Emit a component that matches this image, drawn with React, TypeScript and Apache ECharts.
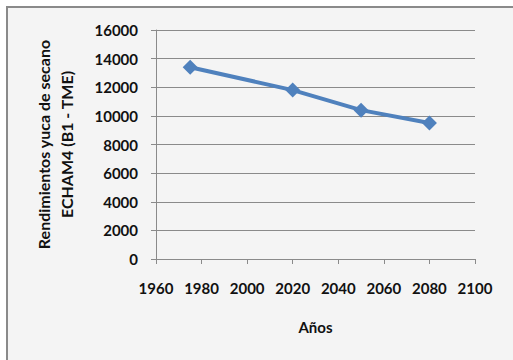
import React, { useEffect, useRef } from "react";
import * as echarts from "echarts";

const years = [1975, 2020, 2050, 2080];
const yields = [13400, 11800, 10400, 9500];
const xTicks = [1960, 2100, 20];
const yTicks = [0, 16000, 2000];

export default function App() {
  const ref = useRef<HTMLDivElement>(null);
  useEffect(() => {
    const chart = echarts.init(ref.current!, null, { renderer: "svg" });
    const font = "Lato";
    const txt = { fontFamily: font, color: "#111111", fontWeight: "bold" as const };
    chart.setOption({
      animation: false,
      backgroundColor: "#ffffff",
      graphic: [
        {
          type: "rect",
          z: -10,
          shape: { x: 7, y: 7, width: 520, height: 370 },
          style: { fill: "#f4f4f4", stroke: "#8a8a8a", lineWidth: 2 },
        },
      ],
      grid: { left: 156, right: 38, top: 30, bottom: 101 },
      xAxis: {
        type: "value",
        min: xTicks[0],
        max: xTicks[1],
        interval: xTicks[2],
        name: "Años",
        nameLocation: "middle",
        nameGap: 60,
        nameTextStyle: { ...txt, fontSize: 15 },
        axisLine: { show: true, lineStyle: { color: "#8a8a8a", width: 1 } },
        axisTick: { show: true, length: 5, lineStyle: { color: "#8a8a8a" } },
        axisLabel: { ...txt, fontSize: 15, margin: 21, formatter: (v: number) => String(v) },
        splitLine: { show: false },
      },
      yAxis: {
        type: "value",
        min: yTicks[0],
        max: yTicks[1],
        interval: yTicks[2],
        name: "Rendimientos yuca de secano\nECHAM4 (B1 - TME)",
        nameLocation: "middle",
        nameGap: 78,
        nameTextStyle: { ...txt, fontSize: 16, lineHeight: 23 },
        axisLine: { show: true, lineStyle: { color: "#8a8a8a", width: 1 } },
        axisTick: { show: true, length: 5, lineStyle: { color: "#8a8a8a" } },
        axisLabel: { ...txt, fontSize: 15, margin: 18, formatter: (v: number) => String(v) },
        splitLine: { show: true, lineStyle: { color: "#8a8a8a", width: 1 } },
      },
      series: [
        {
          type: "line",
          data: years.map((y, i) => [y, yields[i]]),
          symbol: "diamond",
          symbolSize: 15,
          itemStyle: { color: "#4f81bd" },
          lineStyle: { color: "#4f81bd", width: 4 },
        },
      ],
    });
    return () => chart.dispose();
  }, []);
  return (
    <div
      ref={ref}
      style={{ position: "fixed", left: 0, top: 0, width: 513, height: 360 }}
    />
  );
}
